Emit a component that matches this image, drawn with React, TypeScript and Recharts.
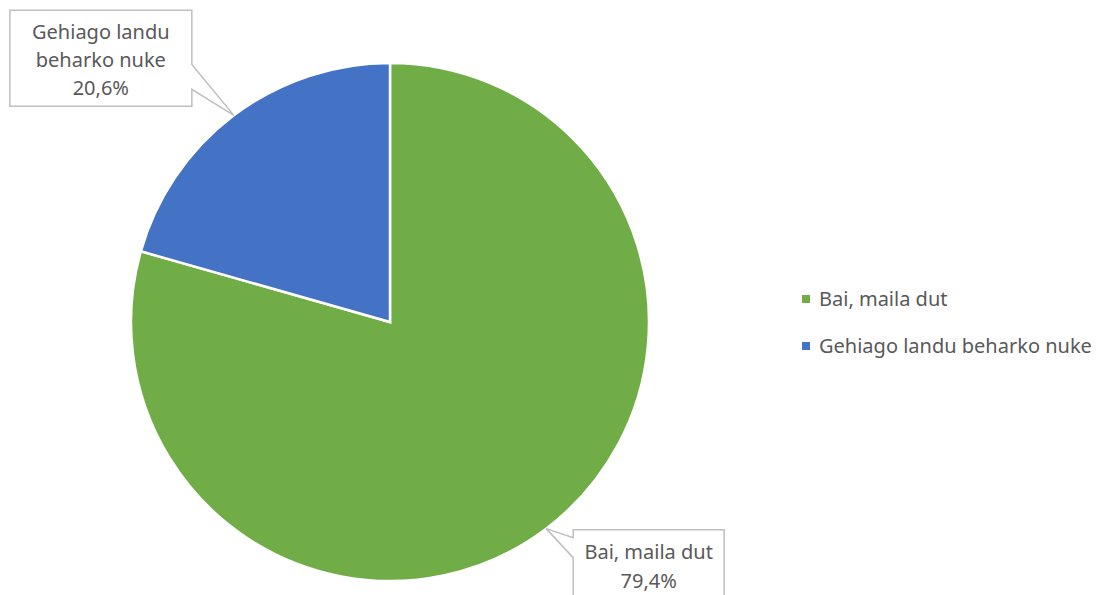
import { PieChart, Pie, Cell, Legend } from "recharts"

// Erantzunen banaketa
const kategoriak = ["Bai, maila dut", "Gehiago landu beharko nuke"]
const balioak = [79.4, 20.6]
const koloreak = ["#70AD47", "#4472C4"]

const datuak = kategoriak.map((name, i) => ({ name, value: balioak[i], color: koloreak[i] }))

const FONT = "'Noto Sans', sans-serif"
const FS = 20
const RAD = Math.PI / 180

function Etiketa(props: any) {
  const { cx, cy, midAngle, outerRadius, index, name, value } = props
  const tx = cx + outerRadius * Math.cos(-midAngle * RAD)
  const ty = cy + outerRadius * Math.sin(-midAngle * RAD)
  const ehunekoa = value.toFixed(1).replace(".", ",") + "%"

  if (index === 1) {
    // goiko ezkerreko bokadilloa
    const l = tx - 224, r = tx - 42, t = ty - 105, b = ty - 9
    const d = `M${l},${t} L${r},${t} L${r},${ty - 51} L${tx},${ty} L${r},${ty - 26} L${r},${b} L${l},${b} Z`
    const mx = (l + r) / 2
    return (
      <g>
        <path d={d} fill="#fff" stroke="#bfbfbf" strokeWidth={1.5} />
        <text x={mx} y={t + 29} textAnchor="middle" fill="#595959" fontSize={FS} fontFamily={FONT}>Gehiago landu</text>
        <text x={mx} y={t + 57} textAnchor="middle" fill="#595959" fontSize={FS} fontFamily={FONT}>beharko nuke</text>
        <text x={mx} y={t + 85} textAnchor="middle" fill="#595959" fontSize={FS} fontFamily={FONT}>{ehunekoa}</text>
      </g>
    )
  }
  const l = tx + 27, r = tx + 178, t = ty + 1, b = ty + 80
  const d = `M${l},${t} L${r},${t} L${r},${b} L${l},${b} L${l},${ty + 29} L${tx},${ty} L${l},${ty + 9} Z`
  const mx = (l + r) / 2
  return (
    <g>
      <path d={d} fill="#fff" stroke="#bfbfbf" strokeWidth={1.5} />
      <text x={mx} y={t + 29} textAnchor="middle" fill="#595959" fontSize={FS} fontFamily={FONT}>{name}</text>
      <text x={mx} y={t + 58} textAnchor="middle" fill="#595959" fontSize={FS} fontFamily={FONT}>{ehunekoa}</text>
    </g>
  )
}

function Legenda() {
  return (
    <div style={{ fontFamily: FONT, fontSize: FS, color: "#595959", whiteSpace: "nowrap" }}>
      {datuak.map((d) => (
        <div key={d.name} style={{ display: "flex", alignItems: "center", height: 47 }}>
          <span style={{ display: "inline-block", width: 8, height: 8, background: d.color, marginRight: 9 }} />
          {d.name}
        </div>
      ))}
    </div>
  )
}

export default function App() {
  return (
    <div style={{ position: "absolute", left: 0, top: 0, width: 1102, height: 595, background: "#fff" }}>
      <PieChart width={1102} height={595} margin={{ top: 0, right: 0, bottom: 0, left: 0 }}>
        <Pie
          data={datuak}
          dataKey="value"
          nameKey="name"
          cx={390}
          cy={322}
          outerRadius={259}
          startAngle={90}
          endAngle={-270}
          stroke="#fff"
          strokeWidth={2.5}
          label={Etiketa}
          labelLine={false}
          isAnimationActive={false}
        >
          {datuak.map((d, i) => (
            <Cell key={`cell-${i}`} fill={d.color} />
          ))}
        </Pie>
        <Legend
          layout="vertical"
          align="right"
          verticalAlign="top"
          content={<Legenda />}
          wrapperStyle={{ left: 802, top: 275, width: 300 }}
        />
      </PieChart>
    </div>
  )
}
